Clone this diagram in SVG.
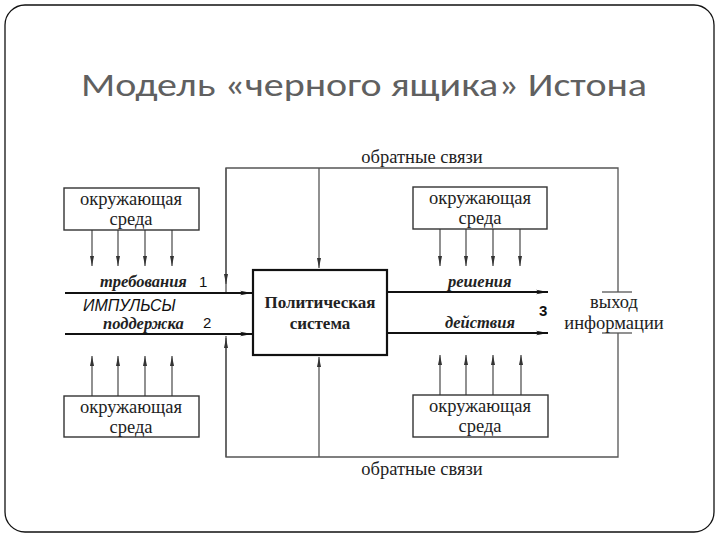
<svg xmlns="http://www.w3.org/2000/svg" width="720" height="540" viewBox="0 0 720 540">
<style>
.tm{font-family:"Liberation Serif","DejaVu Serif",serif;fill:#222}
.env{font-size:18.5px;text-anchor:middle}
.lbl{font-size:16.5px;font-weight:bold;font-style:italic}
.num{font-family:"Liberation Sans",Arial,sans-serif;font-size:15px;fill:#111}
.box{fill:#fff;stroke:#333;stroke-width:1.4}
.thin{fill:none;stroke:#555;stroke-width:1.3}
.thick{fill:none;stroke:#111;stroke-width:2.2}
</style>
<defs>
<marker id="ah" viewBox="0 0 12 6" refX="12" refY="3" markerWidth="12" markerHeight="6" markerUnits="userSpaceOnUse" orient="auto"><path d="M0,0.8 L12,3 L0,5.2 L3,3 Z" fill="#111"/></marker>
<marker id="as" viewBox="0 0 10 5" refX="10" refY="2.5" markerWidth="10" markerHeight="5" markerUnits="userSpaceOnUse" orient="auto"><path d="M0,0.5 L10,2.5 L0,4.5 Z" fill="#333"/></marker>
</defs>
<rect x="5" y="5" width="709" height="527" rx="20" fill="#fff" stroke="#111" stroke-width="1.3"/>
<text x="364" y="96" text-anchor="middle" font-family="Carlito,'Open Sans','Liberation Sans',sans-serif" font-size="33" fill="#606060" textLength="566" lengthAdjust="spacingAndGlyphs">Модель «черного ящика» Истона</text>

<g id="connectors">
<path class="thin" d="M618,292 V168 H226 V292"/>
<path class="thin" d="M319,168 V268" marker-end="url(#as)"/>
<path class="thin" d="M226,168 V284" marker-end="url(#as)"/>
<line class="thin" x1="602" y1="292" x2="632" y2="292"/>
<path class="thin" d="M618,333 V457 H226 V336"/>
<path class="thin" d="M226,457 V338" marker-end="url(#as)"/>
<path class="thin" d="M319,457 V357" marker-end="url(#as)"/>
<line class="thin" x1="602" y1="333" x2="632" y2="333"/>
<line class="thick" x1="65" y1="293" x2="252" y2="293" marker-end="url(#ah)"/>
<line class="thick" x1="65" y1="334" x2="252" y2="334" marker-end="url(#ah)"/>
<line class="thick" x1="388" y1="292" x2="548" y2="292" marker-end="url(#ah)"/>
<line class="thick" x1="388" y1="333" x2="548" y2="333" marker-end="url(#ah)"/>
<line class="thin" x1="92" y1="230" x2="92" y2="266" marker-end="url(#as)"/>
<line class="thin" x1="118" y1="230" x2="118" y2="266" marker-end="url(#as)"/>
<line class="thin" x1="145" y1="230" x2="145" y2="266" marker-end="url(#as)"/>
<line class="thin" x1="172" y1="230" x2="172" y2="266" marker-end="url(#as)"/>
<line class="thin" x1="440" y1="229" x2="440" y2="266" marker-end="url(#as)"/>
<line class="thin" x1="466" y1="229" x2="466" y2="266" marker-end="url(#as)"/>
<line class="thin" x1="493" y1="229" x2="493" y2="266" marker-end="url(#as)"/>
<line class="thin" x1="520" y1="229" x2="520" y2="266" marker-end="url(#as)"/>
<line class="thin" x1="92" y1="396" x2="92" y2="356" marker-end="url(#as)"/>
<line class="thin" x1="118" y1="396" x2="118" y2="356" marker-end="url(#as)"/>
<line class="thin" x1="145" y1="396" x2="145" y2="356" marker-end="url(#as)"/>
<line class="thin" x1="172" y1="396" x2="172" y2="356" marker-end="url(#as)"/>
<line class="thin" x1="440" y1="395" x2="440" y2="355" marker-end="url(#as)"/>
<line class="thin" x1="466" y1="395" x2="466" y2="355" marker-end="url(#as)"/>
<line class="thin" x1="493" y1="395" x2="493" y2="355" marker-end="url(#as)"/>
<line class="thin" x1="521" y1="395" x2="521" y2="355" marker-end="url(#as)"/>
</g>

<g id="labels">
<text class="tm" x="422" y="163" font-size="18.5" text-anchor="middle">обратные связи</text>
<text class="tm" x="422" y="475" font-size="18.5" text-anchor="middle">обратные связи</text>
<text class="tm lbl" x="100" y="287">требования</text>
<text class="num" x="199" y="287">1</text>
<text x="83" y="311" font-family="'Liberation Sans',Arial,sans-serif" font-size="16" font-style="italic" fill="#111">ИМПУЛЬСЫ</text>
<text class="tm lbl" x="103" y="329">поддержка</text>
<text class="num" x="203" y="328">2</text>
<text class="tm lbl" x="448" y="287">решения</text>
<text class="tm lbl" x="445" y="328">действия</text>
<text class="num" x="539" y="316" font-size="16" font-weight="bold">3</text>
<text class="tm" x="614" y="308" font-size="18.5" text-anchor="middle">выход</text>
<text class="tm" x="614" y="329" font-size="18.5" text-anchor="middle">информации</text>
</g>

<g id="system">
<rect x="253" y="270" width="134" height="85" fill="#fff" stroke="#111" stroke-width="2.2"/>
<text class="tm" x="320" y="308" font-size="17" font-weight="bold" text-anchor="middle">Политическая</text>
<text class="tm" x="320" y="329" font-size="17" font-weight="bold" text-anchor="middle">система</text>
</g>
<g id="env-top-left">
<rect class="box" x="64" y="188" width="135" height="42"/>
<text class="tm env" x="131" y="205">окружающая</text>
<text class="tm env" x="131" y="225">среда</text>
</g>
<g id="env-top-right">
<rect class="box" x="413" y="187" width="134" height="42"/>
<text class="tm env" x="480" y="204">окружающая</text>
<text class="tm env" x="480" y="224">среда</text>
</g>
<g id="env-bottom-left">
<rect class="box" x="64" y="396" width="135" height="41"/>
<text class="tm env" x="131" y="413">окружающая</text>
<text class="tm env" x="131" y="433">среда</text>
</g>
<g id="env-bottom-right">
<rect class="box" x="413" y="395" width="135" height="42"/>
<text class="tm env" x="480" y="412">окружающая</text>
<text class="tm env" x="480" y="432">среда</text>
</g>
</svg>
